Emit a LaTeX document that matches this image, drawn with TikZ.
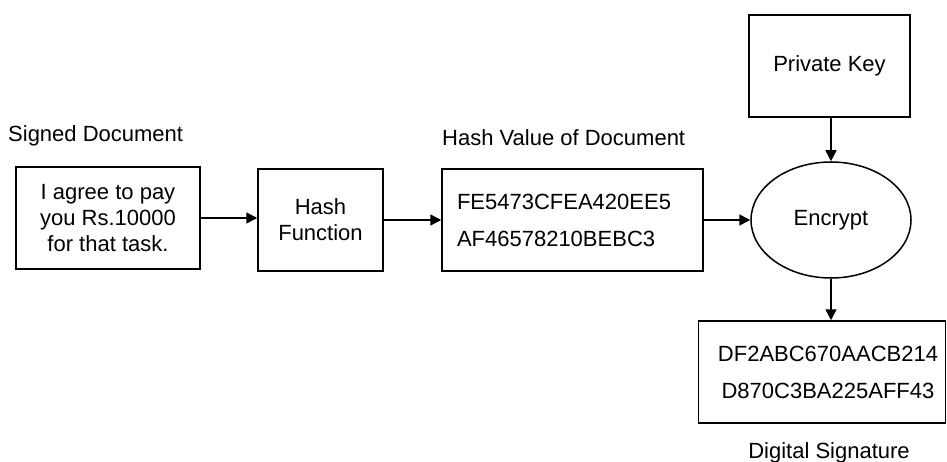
\documentclass[tikz,border=0pt]{standalone}
\usepackage{fontspec}
\setmainfont{Liberation Sans}
\usetikzlibrary{shapes.geometric,arrows.meta}
\begin{document}
\begin{tikzpicture}[x=1pt,y=-1pt,
  every node/.style={font=\fontsize{22}{26}\selectfont},
  box/.style={draw,line width=1.5pt,rectangle,minimum height=102pt,inner sep=0pt,align=center},
  conn/.style={line width=1.5pt,-{Triangle[length=11pt,width=11pt]}},
  lbl/.style={inner sep=0pt}]
\useasboundingbox (0,0) rectangle (947,462);
\node[box,minimum width=184pt] (doc) at (108,218) {I agree to pay\\you Rs.10000\\for that task.};
\node[box,minimum width=125pt] (hf) at (320.5,220) {Hash\\Function};
\node[box,align=left,text width=231pt,inner xsep=15pt] (hv) at (572.5,220) {FE5473CFEA420EE5\\[11pt]AF46578210BEBC3};
\node[box,minimum width=161pt] (pk) at (829.5,66) {Private Key};
\node[draw,line width=1.5pt,ellipse,minimum width=160pt,minimum height=116pt,inner sep=0pt] (enc) at (831,220) {Encrypt};
\node[box,minimum width=247pt] (sig) at (822,372) {\hspace*{12pt}DF2ABC670AACB214\\[11pt]\hspace*{12pt}D870C3BA225AFF43};
\node[lbl,anchor=west] (l1) at (8,136) {Signed Document};
\node[lbl,anchor=west] (l2) at (442,138) {Hash Value of Document};
\node[lbl] (l3) at (829,453) {Digital Signature};
\draw[conn] (doc.east) -- (hf.west |- doc.east);
\draw[conn] (hf.east) -- (hv.west |- hf.east);
\draw[conn] (hv.east) -- (enc.west |- hv.east);
\draw[conn] (enc.north |- pk.south) -- (enc.north);
\draw[conn] (enc.south) -- (enc.south |- sig.north);
\end{tikzpicture}
\end{document}
